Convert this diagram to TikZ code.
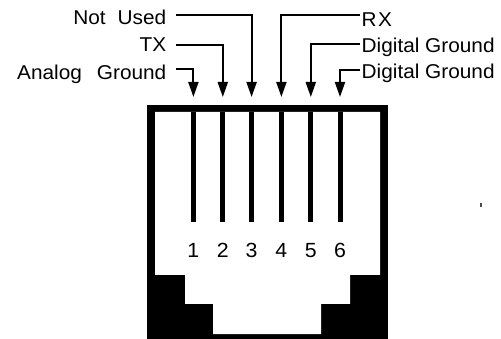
\documentclass[tikz,border=0pt]{standalone}
\usepackage{fontspec}
\setmainfont[FakeStretch=1.04]{Liberation Sans}
\usetikzlibrary{arrows.meta}
\begin{document}
\begin{tikzpicture}[x=1pt,y=-1pt,
  conn/.style={line width=2pt,-{Triangle[length=15pt,width=10pt]}},
  lbl/.style={inner sep=0pt,font=\fontsize{20}{24}\selectfont},
  pinline/.style={line width=5pt},
  num/.style={inner sep=0pt,anchor=base,font=\fontsize{20.5}{24}\selectfont},
  body/.style={fill=black},
  hole/.style={fill=white}]
\useasboundingbox (0,0) rectangle (501,339);
% connector body
\fill[body] (147,105) rectangle (388,339);
\fill[hole] (155,112) -- (380,112) -- (380,275) -- (350,275) -- (350,304)
  -- (321,304) -- (321,334) -- (213,334) -- (213,304) -- (185,304)
  -- (185,275) -- (155,275) -- cycle;
% pins, numbers, arrow targets
\foreach \i/\x in {1/193.4,2/222.8,3/251.6,4/281.4,5/310.8,6/340} {
  \draw[pinline] (\x,112) -- (\x,222);
  \node[num] (n\i) at (\x,258) {\i};
  \coordinate (t\i) at (\x,97);
}
% left labels
\node[lbl,anchor=base east] (lNU) at (166.5,25) {{\spaceskip=12pt Not Used}};
\node[lbl,anchor=base east] (lTX) at (166.5,52) {TX};
\node[lbl,anchor=base east] (lAG) at (166.5,80) {{\spaceskip=15pt Analog Ground}};
\coordinate (sNU) at (176,15);
\coordinate (sTX) at (176,45.5);
\coordinate (sAG) at (176,69.5);
% right labels
\node[lbl,anchor=base west] (lRX) at (361.5,26.5) {{\spaceskip=1.5pt R X}};
\node[lbl,anchor=base west] (lDG1) at (361.5,53) {Digital Ground};
\node[lbl,anchor=base west] (lDG2) at (361.5,79) {Digital Ground};
\coordinate (sRX) at (360,15);
\coordinate (sDG1) at (360,44);
\coordinate (sDG2) at (360,70);
% connectors
\draw[conn] (sAG) -| (t1);
\draw[conn] (sTX) -| (t2);
\draw[conn] (sNU) -| (t3);
\draw[conn] (sRX) -| (t4);
\draw[conn] (sDG1) -| (t5);
\draw[conn] (sDG2) -| (t6);
% stray mark
\fill[black!70] (480.3,203) rectangle (482,207);
\end{tikzpicture}
\end{document}
